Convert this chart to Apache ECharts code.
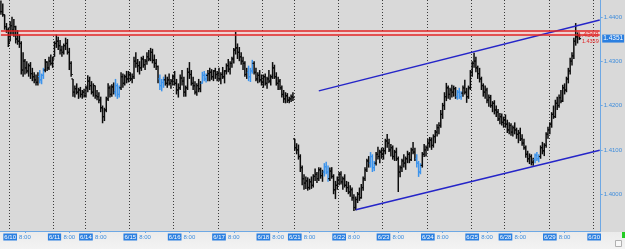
<!DOCTYPE html>
<html><head><meta charset="utf-8">
<script src="https://cdn.jsdelivr.net/npm/echarts@6/dist/echarts.min.js"></script>
<style>
html,body{margin:0;padding:0;background:#d9d9d9;}
#c{width:625px;height:249px;background:linear-gradient(to bottom,#d9d9d9 0,#d9d9d9 232px,#ebebeb 232px,#f3f3f3 249px);}
</style></head><body><div id="c"></div>
<script>
// Trading days on the time axis and the number of hourly bars in each
const dayLabels = ['6/9','6/10','6/11','6/14','6/15','6/16','6/17','6/18','6/21','6/22','6/23','6/24','6/25','6/28','6/29','6/30'];
const dayBars   = [5,24,17,24,24,24,24,17,24,24,24,24,18,24,24,4];
const firstHour = 19;

// Hourly bars (close / high / low)
const closes = [1.4412,1.4405,1.4378,1.4370,1.4340,1.4380,1.4370,1.4378,1.4350,1.4345,
1.4340,1.4280,1.4300,1.4285,1.4278,1.4290,1.4272,1.4265,1.4258,1.4252,
1.4265,1.4258,1.4268,1.4280,1.4298,1.4285,1.4300,1.4295,1.4305,1.4340,
1.4345,1.4335,1.4325,1.4320,1.4335,1.4340,1.4320,1.4295,1.4270,1.4230,
1.4238,1.4230,1.4235,1.4225,1.4230,1.4222,1.4240,1.4255,1.4245,1.4230,
1.4245,1.4222,1.4220,1.4212,1.4195,1.4175,1.4190,1.4215,1.4240,1.4225,
1.4242,1.4230,1.4245,1.4225,1.4240,1.4265,1.4250,1.4265,1.4260,1.4270,
1.4260,1.4265,1.4300,1.4295,1.4290,1.4285,1.4305,1.4292,1.4300,1.4310,
1.4305,1.4320,1.4302,1.4295,1.4288,1.4260,1.4245,1.4252,1.4258,1.4250,
1.4258,1.4250,1.4255,1.4265,1.4250,1.4235,1.4240,1.4262,1.4255,1.4230,
1.4240,1.4275,1.4270,1.4250,1.4245,1.4230,1.4245,1.4238,1.4250,1.4268,
1.4260,1.4268,1.4272,1.4275,1.4265,1.4278,1.4270,1.4272,1.4260,1.4270,
1.4265,1.4278,1.4290,1.4282,1.4295,1.4305,1.4325,1.4330,1.4320,1.4310,
1.4300,1.4295,1.4270,1.4275,1.4265,1.4278,1.4295,1.4275,1.4260,1.4268,
1.4258,1.4252,1.4265,1.4250,1.4260,1.4255,1.4265,1.4285,1.4265,1.4250,
1.4255,1.4240,1.4225,1.4215,1.4222,1.4212,1.4215,1.4220,1.4218,1.4105,
1.4100,1.4085,1.4060,1.4035,1.4025,1.4030,1.4015,1.4028,1.4020,1.4040,
1.4045,1.4035,1.4055,1.4042,1.4050,1.4062,1.4050,1.4035,1.4052,1.4040,
1.4010,1.4020,1.4032,1.4045,1.4028,1.4035,1.4020,1.4015,1.4005,1.4010,
1.3992,1.3970,1.3988,1.4000,1.3992,1.4015,1.4035,1.4055,1.4075,1.4070,
1.4085,1.4060,1.4070,1.4090,1.4085,1.4095,1.4090,1.4098,1.4120,1.4115,
1.4100,1.4105,1.4085,1.4095,1.4080,1.4050,1.4060,1.4075,1.4070,1.4080,
1.4090,1.4078,1.4100,1.4095,1.4080,1.4070,1.4050,1.4065,1.4090,1.4100,
1.4105,1.4115,1.4122,1.4110,1.4130,1.4140,1.4150,1.4155,1.4180,1.4200,
1.4220,1.4240,1.4225,1.4235,1.4230,1.4238,1.4220,1.4230,1.4220,1.4228,
1.4240,1.4230,1.4220,1.4240,1.4275,1.4295,1.4300,1.4285,1.4272,1.4260,
1.4245,1.4230,1.4235,1.4212,1.4218,1.4200,1.4205,1.4190,1.4185,1.4170,
1.4175,1.4162,1.4168,1.4158,1.4145,1.4155,1.4140,1.4150,1.4145,1.4135,
1.4138,1.4125,1.4115,1.4105,1.4090,1.4080,1.4085,1.4072,1.4078,1.4088,
1.4080,1.4085,1.4105,1.4098,1.4110,1.4135,1.4145,1.4158,1.4180,1.4175,
1.4205,1.4200,1.4218,1.4210,1.4240,1.4235,1.4260,1.4278,1.4300,1.4312,
1.4345,1.4355,1.4358,1.4351];

const highs = [1.4437,1.4430,1.4405,1.4386,1.4376,1.4390,1.4400,1.4395,1.4380,1.4370,
1.4360,1.4345,1.4320,1.4305,1.4300,1.4295,1.4298,1.4285,1.4275,1.4270,
1.4275,1.4280,1.4272,1.4285,1.4305,1.4300,1.4310,1.4315,1.4310,1.4345,
1.4360,1.4355,1.4348,1.4335,1.4340,1.4353,1.4350,1.4330,1.4300,1.4260,
1.4245,1.4250,1.4240,1.4242,1.4235,1.4238,1.4245,1.4268,1.4265,1.4255,
1.4250,1.4245,1.4235,1.4230,1.4220,1.4200,1.4195,1.4220,1.4250,1.4245,
1.4248,1.4252,1.4260,1.4250,1.4245,1.4275,1.4272,1.4270,1.4278,1.4278,
1.4275,1.4272,1.4310,1.4320,1.4305,1.4300,1.4310,1.4312,1.4305,1.4320,
1.4325,1.4330,1.4328,1.4315,1.4305,1.4290,1.4270,1.4260,1.4265,1.4270,
1.4265,1.4272,1.4260,1.4270,1.4278,1.4260,1.4250,1.4270,1.4280,1.4265,
1.4245,1.4285,1.4298,1.4280,1.4265,1.4255,1.4250,1.4260,1.4255,1.4276,
1.4278,1.4272,1.4280,1.4285,1.4282,1.4280,1.4285,1.4278,1.4285,1.4275,
1.4287,1.4280,1.4295,1.4305,1.4300,1.4310,1.4330,1.4366,1.4340,1.4332,
1.4320,1.4310,1.4300,1.4285,1.4290,1.4285,1.4303,1.4300,1.4285,1.4275,
1.4280,1.4270,1.4270,1.4272,1.4265,1.4280,1.4270,1.4298,1.4292,1.4275,
1.4265,1.4260,1.4245,1.4235,1.4230,1.4228,1.4220,1.4225,1.4230,1.4125,
1.4115,1.4112,1.4090,1.4065,1.4045,1.4040,1.4038,1.4035,1.4040,1.4045,
1.4058,1.4050,1.4061,1.4060,1.4055,1.4070,1.4073,1.4065,1.4060,1.4061,
1.4045,1.4030,1.4040,1.4050,1.4052,1.4040,1.4045,1.4030,1.4028,1.4020,
1.4015,1.4000,1.3995,1.4005,1.4015,1.4023,1.4040,1.4061,1.4080,1.4086,
1.4095,1.4090,1.4075,1.4095,1.4107,1.4100,1.4105,1.4105,1.4125,1.4136,
1.4125,1.4113,1.4110,1.4100,1.4105,1.4085,1.4065,1.4080,1.4090,1.4085,
1.4098,1.4095,1.4105,1.4118,1.4105,1.4090,1.4075,1.4070,1.4095,1.4113,
1.4110,1.4125,1.4129,1.4128,1.4135,1.4145,1.4158,1.4162,1.4190,1.4206,
1.4230,1.4251,1.4245,1.4240,1.4247,1.4245,1.4242,1.4235,1.4240,1.4232,
1.4245,1.4258,1.4240,1.4245,1.4280,1.4300,1.4319,1.4310,1.4290,1.4285,
1.4265,1.4250,1.4245,1.4240,1.4225,1.4224,1.4210,1.4212,1.4200,1.4192,
1.4183,1.4182,1.4175,1.4180,1.4168,1.4162,1.4160,1.4155,1.4162,1.4150,
1.4145,1.4150,1.4135,1.4125,1.4110,1.4098,1.4092,1.4090,1.4082,1.4092,
1.4095,1.4090,1.4110,1.4118,1.4115,1.4140,1.4152,1.4162,1.4185,1.4200,
1.4213,1.4220,1.4225,1.4235,1.4247,1.4250,1.4265,1.4285,1.4308,1.4320,
1.4353,1.4386,1.4365,1.4362];

const lows = [1.4405,1.4400,1.4371,1.4364,1.4332,1.4345,1.4360,1.4355,1.4340,1.4337,
1.4330,1.4270,1.4265,1.4270,1.4272,1.4265,1.4260,1.4255,1.4250,1.4245,
1.4245,1.4250,1.4248,1.4260,1.4275,1.4278,1.4280,1.4290,1.4285,1.4310,
1.4330,1.4325,1.4315,1.4310,1.4315,1.4325,1.4315,1.4280,1.4265,1.4220,
1.4218,1.4225,1.4215,1.4218,1.4215,1.4218,1.4218,1.4230,1.4235,1.4225,
1.4220,1.4215,1.4212,1.4205,1.4185,1.4160,1.4165,1.4185,1.4210,1.4218,
1.4220,1.4225,1.4220,1.4215,1.4218,1.4235,1.4240,1.4245,1.4250,1.4252,
1.4255,1.4250,1.4260,1.4285,1.4275,1.4270,1.4278,1.4285,1.4280,1.4292,
1.4300,1.4300,1.4295,1.4285,1.4280,1.4250,1.4235,1.4232,1.4240,1.4245,
1.4240,1.4245,1.4238,1.4245,1.4245,1.4225,1.4218,1.4235,1.4245,1.4220,
1.4220,1.4235,1.4260,1.4245,1.4235,1.4225,1.4222,1.4230,1.4230,1.4250,
1.4255,1.4252,1.4255,1.4255,1.4258,1.4255,1.4260,1.4255,1.4255,1.4248,
1.4260,1.4250,1.4270,1.4275,1.4270,1.4285,1.4295,1.4315,1.4305,1.4300,
1.4292,1.4280,1.4265,1.4260,1.4255,1.4253,1.4272,1.4270,1.4255,1.4250,
1.4252,1.4245,1.4240,1.4245,1.4238,1.4250,1.4245,1.4260,1.4260,1.4245,
1.4235,1.4235,1.4218,1.4206,1.4205,1.4206,1.4205,1.4208,1.4210,1.4098,
1.4090,1.4078,1.4050,1.4020,1.4010,1.4012,1.4008,1.4010,1.4012,1.4015,
1.4030,1.4025,1.4030,1.4035,1.4028,1.4040,1.4045,1.4028,1.4030,1.4035,
1.4000,1.3989,1.4010,1.4020,1.4022,1.4010,1.4015,1.4005,1.4000,1.3994,
1.3985,1.3962,1.3964,1.3980,1.3985,1.3990,1.4008,1.4030,1.4050,1.4060,
1.4060,1.4050,1.4052,1.4065,1.4078,1.4070,1.4080,1.4078,1.4090,1.4105,
1.4095,1.4085,1.4078,1.4075,1.4075,1.4005,1.4038,1.4050,1.4060,1.4055,
1.4070,1.4070,1.4075,1.4090,1.4075,1.4060,1.4039,1.4045,1.4060,1.4084,
1.4085,1.4098,1.4105,1.4100,1.4105,1.4115,1.4130,1.4135,1.4150,1.4170,
1.4190,1.4210,1.4215,1.4213,1.4218,1.4220,1.4215,1.4213,1.4215,1.4213,
1.4220,1.4225,1.4206,1.4215,1.4235,1.4265,1.4285,1.4275,1.4260,1.4252,
1.4235,1.4220,1.4215,1.4205,1.4197,1.4195,1.4185,1.4180,1.4174,1.4165,
1.4158,1.4155,1.4150,1.4150,1.4138,1.4135,1.4132,1.4130,1.4135,1.4125,
1.4115,1.4120,1.4109,1.4100,1.4082,1.4072,1.4068,1.4065,1.4064,1.4070,
1.4075,1.4072,1.4080,1.4090,1.4086,1.4105,1.4125,1.4135,1.4150,1.4170,
1.4172,1.4190,1.4195,1.4205,1.4208,1.4225,1.4230,1.4250,1.4270,1.4290,
1.4305,1.4335,1.4340,1.4348];

// bars painted blue in the source chart (indices)
const blueBars = [21,22,23,62,63,64,86,87,88,109,110,111,134,135,136,175,176,177,200,201,202,225,226,227,247,248,249,289,290,291];

const resistance = [1.4368, 1.4359];
const lastPrice = 1.4351;
const yTicks = [1.40, 1.41, 1.42, 1.43, 1.44];
const trendUpper = [[172, 1.4233], [324, 1.4393]];
const trendLower = [[192, 1.3965], [324, 1.4099]];

// ---- build category axis (one slot per hour) ----
const categories = [];
dayLabels.forEach((d, k) => {
  for (let h = 0; h < dayBars[k]; h++) {
    const hour = k === 0 ? firstHour + h : h;
    categories.push(d + ' ' + hour + ':00');
  }
});
const lastIdx = categories.length - 1;
function parseCat(v){ const p = v.split(' '); return {d:p[0], h:parseInt(p[1],10)}; }
const isDayStart = (i, v) => parseCat(v).h === 0;
const isLabel = (i, v) => { const c = parseCat(v); return c.h === 0 || (c.h === 8 && c.d !== '6/9'); };
const isEight = (i, v) => { const c = parseCat(v); return c.h === 8 && c.d !== '6/9'; };

const blueSet = new Set(blueBars);
const ohlc = closes.map((c, i) => {
  let o = i === 0 ? c : closes[i - 1];
  o = Math.min(highs[i], Math.max(lows[i], o));
  return [i, o, c, lows[i], highs[i]];
});

const FONT = 'Liberation Sans, Arial, sans-serif';
const hLine = (v, extra) => [Object.assign({coord: [0, v]}, extra), {coord: [lastIdx, v]}];

const chart = echarts.init(document.getElementById('c'), null, {renderer:'canvas'});
chart.setOption({
  animation: false,
  backgroundColor: 'transparent',
  grid: {left: 0, right: 24, top: 0, bottom: 18},
  xAxis: {
    type: 'category', data: categories, boundaryGap: true,
    axisLine: {show: true, lineStyle: {color: '#6ea8e4', width: 1}},
    axisTick: {show: true, interval: isEight, alignWithLabel: true, length: 2, lineStyle: {color: '#6ea8e4'}},
    splitLine: {show: true, interval: isDayStart, lineStyle: {color: '#3a3a3a', width: 1, type: [1, 2]}},
    axisLabel: {
      interval: isLabel, margin: 2, fontFamily: FONT, fontSize: 6,
      formatter: v => { const c = parseCat(v); return c.h === 0 ? '{d|' + c.d + '}' : '{t|8:00}'; },
      rich: {
        d: {backgroundColor: '#2b7fe0', color: '#ffffff', fontSize: 6, fontFamily: FONT, padding: [1, 1, 0, 1], lineHeight: 8},
        t: {color: '#3f8ddc', fontSize: 6, fontFamily: FONT, lineHeight: 8}
      }
    }
  },
  yAxis: {
    type: 'value', position: 'right', min: 1.3917, max: 1.4438,
    splitLine: {show: false},
    axisLine: {show: true, lineStyle: {color: '#6ea8e4', width: 1}},
    axisTick: {show: true, customValues: yTicks, length: 2, lineStyle: {color: '#6ea8e4'}},
    axisLabel: {customValues: yTicks, margin: 3,
      color: '#3f8ddc', fontSize: 6, fontFamily: FONT, formatter: v => v.toFixed(4)}
  },
  series: [
    {
      type: 'line', data: [[0, lastPrice], [lastIdx, lastPrice]], z: 1, silent: true, symbol: 'none',
      lineStyle: {opacity: 0},
      markArea: {silent: true, itemStyle: {color: '#f0d2d2'}, data: [[{coord: [0, resistance[1]]}, {coord: [lastIdx, resistance[0]]}]]},
      markLine: {
        silent: true, symbol: 'none', animation: false,
        data: [
          hLine(resistance[0], {
            lineStyle: {color: '#e02424', width: 1.6, type: 'solid'},
            label: {show: true, position: 'insideEndBottom', distance: [1, 1], formatter: resistance[0].toFixed(4), color: '#e02424', fontSize: 7, fontFamily: FONT}}),
          hLine(resistance[1], {
            lineStyle: {color: '#e02424', width: 1.6, type: 'solid'},
            label: {show: true, position: 'insideEndBottom', distance: [1, 3], formatter: resistance[1].toFixed(4), color: '#e02424', fontSize: 5.5, fontFamily: FONT}})
        ]
      }
    },
    {
      type: 'line', data: [[lastIdx, lastPrice]], z: 5, silent: true, symbol: 'none', lineStyle: {opacity: 0},
      markPoint: {
        silent: true, symbol: 'rect', symbolSize: [1, 1], itemStyle: {color: 'rgba(0,0,0,0)'},
        data: [{coord: [lastIdx, lastPrice],
          label: {show: true, position: 'right', distance: 2, formatter: lastPrice.toFixed(4), color: '#ffffff', backgroundColor: '#2b7fe0', padding: [1, 1, 0, 1], fontSize: 6.5, fontFamily: FONT}}]
      }
    },
    {
      type: 'custom', z: 3, data: ohlc, encode: {x: 0, y: [1, 2, 3, 4]},
      renderItem: (params, api) => {
        const i = api.value(0);
        const pO = api.coord([i, api.value(1)]);
        const pC = api.coord([i, api.value(2)]);
        const pL = api.coord([i, api.value(3)]);
        const pH = api.coord([i, api.value(4)]);
        const x = pH[0];
        const col = blueSet.has(params.dataIndex) ? '#3d94ec' : '#0c0c0c';
        return {type: 'group', children: [
          {type: 'line', shape: {x1: x, y1: pH[1], x2: x, y2: pL[1]}, style: {stroke: col, lineWidth: 1.5}},
          {type: 'line', shape: {x1: x - 1.7, y1: pO[1], x2: x, y2: pO[1]}, style: {stroke: col, lineWidth: 1.2}},
          {type: 'line', shape: {x1: x, y1: pC[1], x2: x + 1.7, y2: pC[1]}, style: {stroke: col, lineWidth: 1.2}}
        ]};
      }
    },
    {type: 'line', data: trendUpper, symbol: 'none', z: 4, silent: true, lineStyle: {color: '#2525c8', width: 1.5}},
    {type: 'line', data: trendLower, symbol: 'none', z: 4, silent: true, lineStyle: {color: '#2525c8', width: 1.5}}
  ],
  graphic: [
    {type: 'rect', right: 0, bottom: 11, shape: {width: 3, height: 6}, style: {fill: '#22cc22'}, silent: true},
    {type: 'rect', right: 3, bottom: 2, shape: {width: 6, height: 6}, style: {fill: '#f8f8f8', stroke: '#b0b0b0', lineWidth: 1}, silent: true}
  ]
});
</script>
</body></html>
